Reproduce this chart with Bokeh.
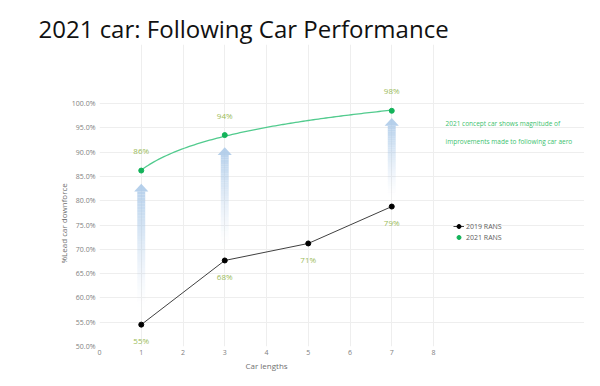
import numpy as np
from bokeh.plotting import figure
from bokeh.models import (ColumnDataSource, Label, Legend, LegendItem, Title,
                          PrintfTickFormatter, FixedTicker, LabelSet, Range1d)
from bokeh.core.properties import value
from bokeh.embed import file_html
from bokeh.resources import INLINE

# ---- data ----
title_text = "2021 car: Following Car Performance"
x_label = "Car lengths"
y_label = "%Lead car downforce"
x_2019 = [1, 3, 5, 7]
y_2019 = [54.5, 67.7, 71.2, 78.8]
labels_2019 = ["55%", "68%", "71%", "79%"]
x_2021 = [1, 3, 7]
y_2021 = [86.2, 93.5, 98.5]
labels_2021 = ["86%", "94%", "98%"]
arrow_x = [1, 3, 7]
arrow_bottom = [57.5, 70.5, 80.5]
arrow_top = [83.5, 91.0, 97.0]
x_ticks = [0, 1, 2, 3, 4, 5, 6, 7, 8]
y_ticks = [50, 55, 60, 65, 70, 75, 80, 85, 90, 95, 100]
note_lines = ["2021 concept car shows magnitude of",
              "improvements made to following car aero"]
series_names = ["2019 RANS", "2021 RANS"]

FONT = "Open Sans"
GRAY = "#808080"
LBL = "#9bbb59"
GREEN_LINE = "#52cb8e"
GREEN_PT = "#13b35a"

# layout (pixels)
W, H = 584, 378
LEFT, AX_RIGHT, AX_TOP, AX_BOTTOM = 99, 433, 103, 346
TOP_BORDER = 44
px_x = (AX_RIGHT - LEFT) / (x_ticks[-1] - x_ticks[0])
px_y = (AX_BOTTOM - AX_TOP) / (y_ticks[-1] - y_ticks[0])
x_end = x_ticks[0] + (W - LEFT) / px_x
y_end = y_ticks[-1] + (AX_TOP - TOP_BORDER) / px_y

p = figure(width=W, height=H, output_backend="svg", toolbar_location=None,
           x_range=Range1d(x_ticks[0], x_end), y_range=Range1d(y_ticks[0], y_end),
           min_border_left=LEFT, min_border_right=0, min_border_top=TOP_BORDER,
           min_border_bottom=H - AX_BOTTOM)
p.outline_line_color = None
p.background_fill_color = "white"
p.border_fill_color = "white"

p.title.text = title_text
p.title.align = "left"
p.title.offset = 38 - LEFT
p.title.text_font = FONT
p.title.text_font_size = "24px"
p.title.text_font_style = "normal"
p.title.text_color = "#111111"
p.title.standoff = 0

for ax in (p.xaxis[0], p.yaxis[0]):
    ax.axis_line_color = None
    ax.major_tick_line_color = None
    ax.minor_tick_line_color = None
    ax.major_tick_out = 0
    ax.major_tick_in = 0
    ax.minor_tick_out = 0
    ax.minor_tick_in = 0
    ax.major_label_text_font = FONT
    ax.major_label_text_font_size = "7px"
    ax.major_label_text_color = GRAY
p.xaxis.ticker = FixedTicker(ticks=x_ticks)
p.yaxis.ticker = FixedTicker(ticks=y_ticks)
p.xaxis.bounds = (x_ticks[0], x_ticks[-1])
p.yaxis.bounds = (y_ticks[0], y_ticks[-1])
p.yaxis.formatter = PrintfTickFormatter(format="%.1f%%")
p.xaxis.major_label_standoff = 3
p.yaxis.major_label_standoff = 4
p.xgrid.grid_line_color = "#eeeeee"
p.ygrid.grid_line_color = "#eeeeee"
p.xgrid.bounds = (y_ticks[0], y_ticks[-1])
p.ygrid.bounds = (x_ticks[0], x_ticks[-1])

# axis titles, centred on the plotted area
p.add_layout(Title(text=x_label, align="left", offset=146, standoff=0,
                   text_font=FONT, text_font_size="8px", text_font_style="normal",
                   text_color="#707070"), "below")
p.add_layout(Title(text=y_label, align="left", offset=83, standoff=0,
                   text_font=FONT, text_font_size="8px", text_font_style="normal",
                   text_color="#707070"), "left")

# ---- gradient arrows ----
n = 40
qx_l, qx_r, qb, qt, qa = [], [], [], [], []
shaft_half = 0.095
head_half = 0.17
head_h = 1.6
for ax_, b, t in zip(arrow_x, arrow_bottom, arrow_top):
    base = t - head_h
    edges = np.linspace(b, base, n + 1)
    for i in range(n):
        qx_l.append(ax_ - shaft_half)
        qx_r.append(ax_ + shaft_half)
        qb.append(edges[i])
        qt.append(edges[i + 1])
        qa.append(0.8 * ((i + 0.5) / n) ** 1.4)
p.quad(left=qx_l, right=qx_r, bottom=qb, top=qt, fill_color="#a9c8e8",
       fill_alpha=qa, line_color=None)
hx = [[a - head_half, a, a + head_half] for a in arrow_x]
hy = [[t - head_h, t, t - head_h] for t in arrow_top]
p.patches(hx, hy, fill_color="#a9c8e8", fill_alpha=0.85, line_color=None)

# ---- 2021 log trendline ----
coef = np.polyfit(np.log(x_2021), y_2021, 1)
xs = np.linspace(min(x_2021), max(x_2021), 100)
p.line(xs, coef[0] * np.log(xs) + coef[1], line_color=GREEN_LINE, line_width=1.3)

# ---- series ----
src19 = ColumnDataSource(dict(x=x_2019, y=y_2019, t=labels_2019))
src21 = ColumnDataSource(dict(x=x_2021, y=y_2021, t=labels_2021))
l19 = p.line("x", "y", source=src19, line_color="#404040", line_width=1)
s19 = p.scatter("x", "y", source=src19, size=5, color="black")
s21 = p.scatter("x", "y", source=src21, size=5, color=GREEN_PT)

p.add_layout(LabelSet(x="x", y="y", text="t", source=src19, y_offset=-16,
                      text_align="center", text_baseline="middle",
                      text_font=value(FONT), text_font_size="8px",
                      text_color=LBL))
p.add_layout(LabelSet(x="x", y="y", text="t", source=src21, y_offset=20,
                      text_align="center", text_baseline="middle",
                      text_font=value(FONT), text_font_size="8px",
                      text_color=LBL))

# ---- legend ----
legend = Legend(items=[LegendItem(label=series_names[0], renderers=[l19, s19]),
                       LegendItem(label=series_names[1], renderers=[s21])],
                location=(354, 104), border_line_color=None,
                background_fill_alpha=0, padding=2, spacing=1,
                glyph_width=11, glyph_height=10, label_height=10,
                label_standoff=2, label_text_font=FONT,
                label_text_font_size="7px", label_text_color="#606060",
                margin=0)
p.add_layout(legend)

# ---- notes ----
for i, line in enumerate(note_lines):
    p.add_layout(Label(x=346, y=223 - 18 * i, x_units="screen", y_units="screen",
                       text=line, text_font=FONT, text_font_size="6.5px",
                       text_color="#3cbf6e", text_baseline="middle"))

open("out.html", "w").write(file_html(p, INLINE))
